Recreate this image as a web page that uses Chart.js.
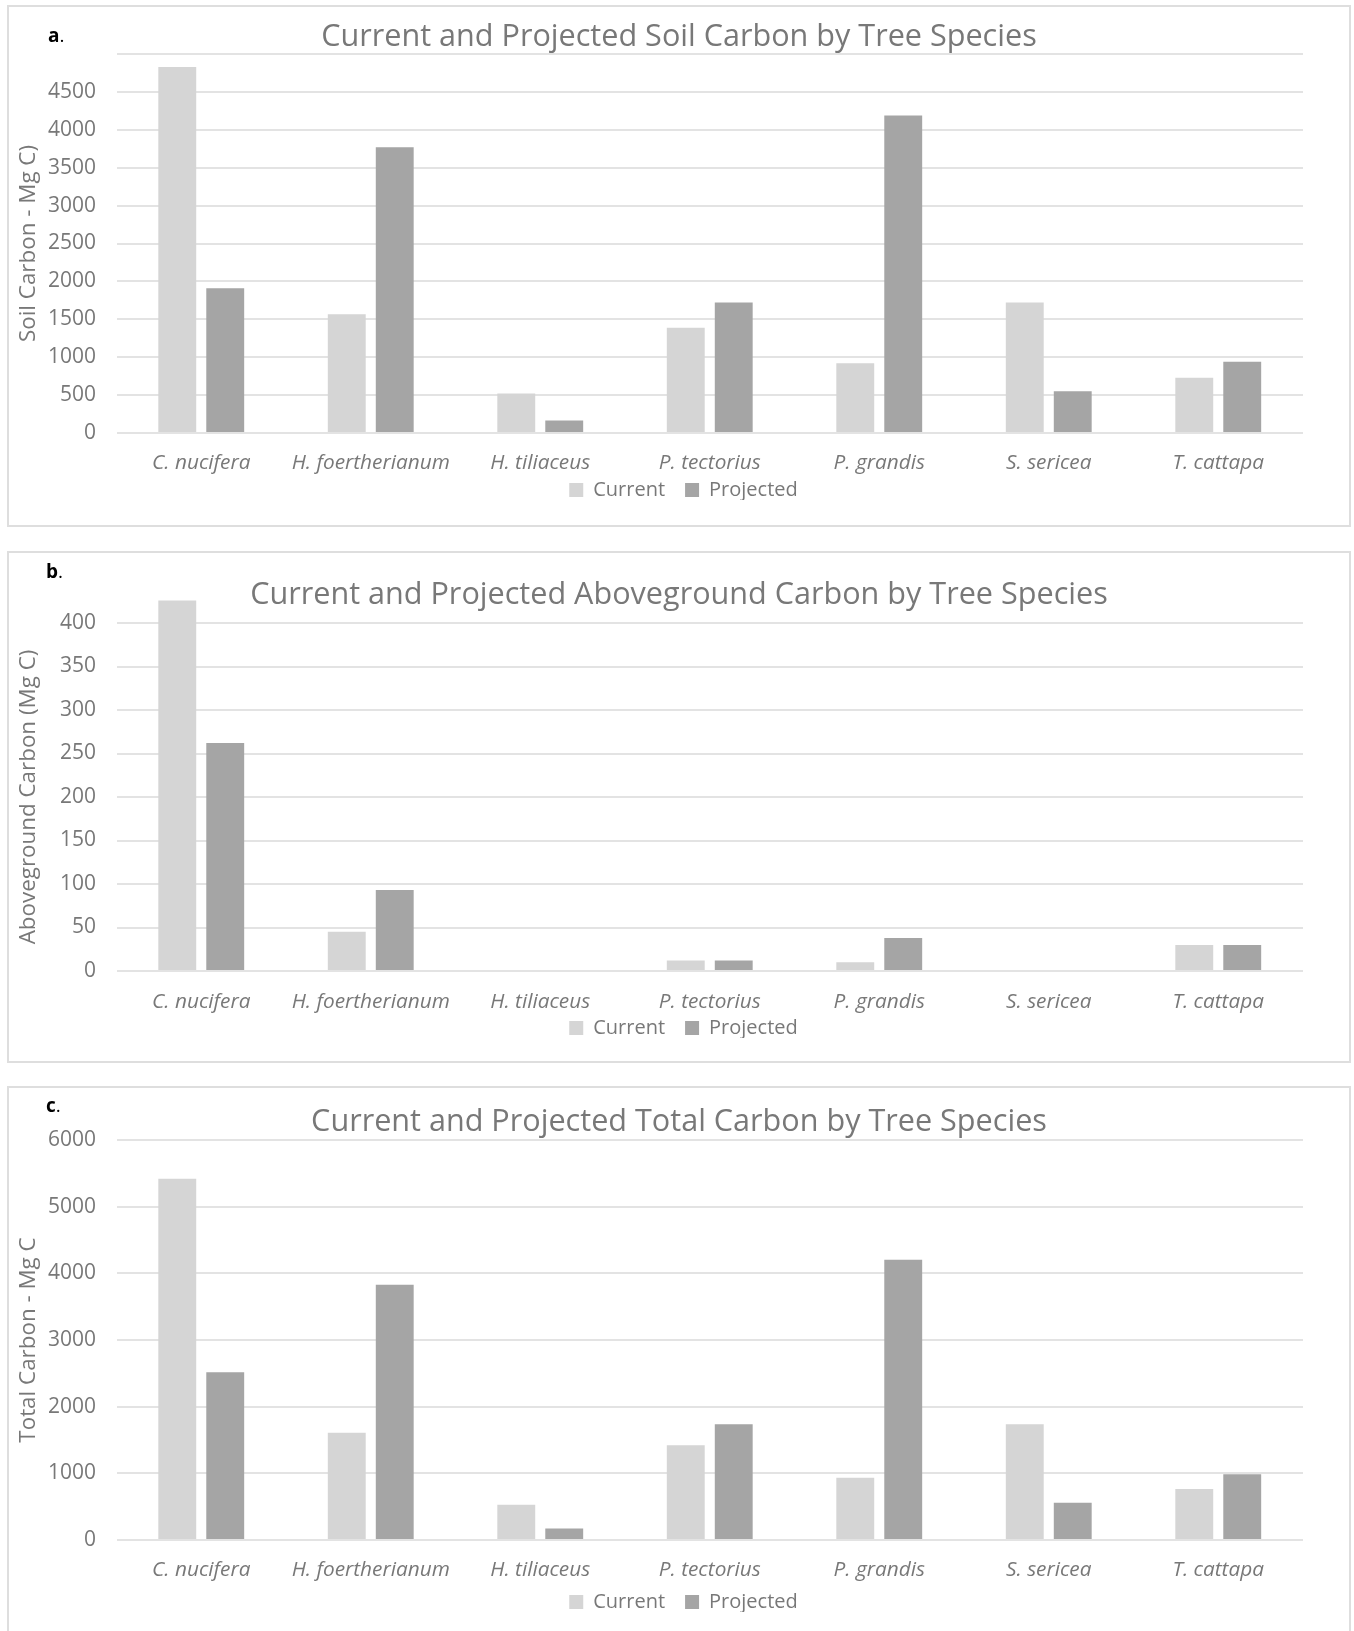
<!DOCTYPE html>
<html>
<head>
<meta charset="utf-8">
<script src="https://cdn.jsdelivr.net/npm/chart.js@4.4.1/dist/chart.umd.min.js"></script>
<style>
  html, body { margin: 0; padding: 0; background: #fff; }
  body { width: 1354px; height: 1631px; position: relative; overflow: hidden; }
  .panel { position: absolute; left: 7px; width: 1344px; border: 2px solid #dedede; box-sizing: border-box; }
  .wrap { position: absolute; left: 0; top: 0; width: 1340px; }
  .tag { position: absolute; font: 19px/20px 'Open Sans', sans-serif; color: #000; }
  .tag b { font-weight: 700; }
</style>
</head>
<body>
<div class="panel" style="top:5px;height:522px">
  <div class="wrap" style="height:518px"><canvas id="soilChart"></canvas></div>
  <span class="tag" style="left:39px;top:18px"><b>a</b>.</span>
</div>
<div class="panel" style="top:551px;height:512px">
  <div class="wrap" style="height:508px"><canvas id="aboveChart"></canvas></div>
  <span class="tag" style="left:37px;top:8px"><b>b</b>.</span>
</div>
<div class="panel" style="top:1086px;height:560px">
  <div class="wrap" style="height:543px"><canvas id="totalChart"></canvas></div>
  <span class="tag" style="left:37px;top:7px"><b>c</b>.</span>
</div>
<script>
const species = ["C. nucifera", "H. foertherianum", "H. tiliaceus", "P. tectorius", "P. grandis", "S. sericea", "T. cattapa"];
const seriesNames = ["Current", "Projected"];

// soil carbon, Mg C
const soilCurrent = [4830, 1565, 522, 1390, 920, 1720, 730];
const soilProjected = [1910, 3770, 165, 1720, 4190, 550, 940];

// aboveground carbon, Mg C
const aboveCurrent = [426, 45, 0, 12, 10, 0, 30];
const aboveProjected = [262, 93, 0, 12, 38, 0, 30];

// total carbon, Mg C
const totalCurrent = [5420, 1610, 530, 1420, 935, 1735, 765];
const totalProjected = [2515, 3830, 172, 1735, 4205, 560, 985];

const GREY_TEXT = "#787878";
const CURRENT_COLOR = "#d5d5d5";
const PROJECTED_COLOR = "#a5a5a5";

Chart.defaults.font.family = "'Open Sans', sans-serif";
Chart.defaults.color = GREY_TEXT;

const TITLE_SIZE = 30.6;
const FONT_SIZE = 20;
const X_SIZE = 20.8;
const TICK_SIZE = 21;
const AXIS_TITLE_SIZE = 22.4;
const LEGEND_PAD = 20;
const LEGEND_H = 40;

// moves the legend box to a fixed spot after layout, so the
// x labels keep their own box and are not clipped
const legendShift = {
  id: "legendShift",
  afterLayout(chart, args, opts) {
    const lg = chart.legend;
    if (!lg || opts.top == null) return;
    const dy = lg.top - opts.top;
    lg.top -= dy;
    lg.bottom -= dy;
    lg.left += opts.dx || 0;
    lg.right += opts.dx || 0;
  },
};

function buildChart(id, p) {
  const titleLh = TITLE_SIZE * 1.2;
  const titleTop = p.titleY - titleLh / 2;
  const tickPad = p.tickY - p.bottom - X_SIZE * 0.6;
  const xHeight = tickPad + X_SIZE * 1.2 + 2;
  const padBottom = Math.max(0, p.height - p.bottom - xHeight - LEGEND_H);

  const datasets = [p.current, p.projected].map((values, i) => ({
    label: seriesNames[i],
    data: values,
    yAxisID: "y",
    backgroundColor: i === 0 ? CURRENT_COLOR : PROJECTED_COLOR,
    borderWidth: 0,
    barPercentage: 0.79,
    categoryPercentage: 0.566,
    clip: false,
  }));

  return new Chart(document.getElementById(id), {
    type: "bar",
    data: { labels: species, datasets },
    plugins: [legendShift],
    options: {
      responsive: true,
      maintainAspectRatio: false,
      animation: false,
      layout: { padding: { top: 0, left: 0, right: 0, bottom: padBottom } },
      plugins: {
        title: {
          display: true,
          text: p.title,
          color: GREY_TEXT,
          font: { size: TITLE_SIZE, weight: "normal" },
          padding: { top: titleTop, bottom: p.top - titleTop - titleLh },
        },
        legend: {
          position: "bottom",
          maxHeight: LEGEND_H,
          labels: {
            boxWidth: 14,
            boxHeight: 14,
            padding: LEGEND_PAD,
            color: GREY_TEXT,
            font: { size: FONT_SIZE },
          },
        },
        legendShift: { top: p.legendY - LEGEND_PAD - FONT_SIZE / 2, dx: 4.5 },
        tooltip: { enabled: false },
      },
      scales: {
        x: {
          grid: { display: false, drawTicks: false },
          border: { display: false },
          ticks: {
            padding: tickPad,
            autoSkip: false,
            maxRotation: 0,
            minRotation: 0,
            font: { size: X_SIZE, style: "italic" },
          },
          afterFit: (s) => { s.height = xHeight; },
        },
        y: {
          min: 0,
          max: p.max,
          ticks: {
            stepSize: p.step,
            padding: 20.5,
            font: { size: TICK_SIZE },
            callback: (v) => (p.hideTop && v === p.max ? "" : v),
          },
          grid: { color: "#e3e3e3", lineWidth: 2, drawTicks: false },
          border: { display: false },
          title: {
            display: true,
            text: p.yTitle,
            color: GREY_TEXT,
            font: { size: AXIS_TITLE_SIZE },
            padding: { top: 20 - AXIS_TITLE_SIZE * 0.6, bottom: 0 },
          },
          afterFit: (s) => { s.width = 107.5; },
        },
        // empty right-hand strip, keeps title and legend centred on the panel
        yPad: {
          type: "linear",
          axis: "y",
          position: "right",
          grid: { display: false, drawTicks: false },
          border: { display: false },
          ticks: { display: false },
          afterFit: (s) => { s.width = 46; },
        },
      },
    },
  });
}

buildChart("soilChart", {
  title: "Current and Projected Soil Carbon by Tree Species",
  yTitle: "Soil Carbon - Mg C)",
  current: soilCurrent,
  projected: soilProjected,
  max: 5000, step: 500, hideTop: true,
  height: 518, titleY: 30, top: 47, bottom: 426, tickY: 456, legendY: 483,
});

buildChart("aboveChart", {
  title: "Current and Projected Aboveground Carbon by Tree Species",
  yTitle: "Aboveground Carbon (Mg C)",
  current: aboveCurrent,
  projected: aboveProjected,
  max: 400, step: 50,
  height: 508, titleY: 42, top: 70, bottom: 418, tickY: 449, legendY: 475,
});

buildChart("totalChart", {
  title: "Current and Projected Total Carbon by Tree Species",
  yTitle: "Total Carbon - Mg C",
  current: totalCurrent,
  projected: totalProjected,
  max: 6000, step: 1000,
  height: 543, titleY: 34, top: 52, bottom: 452, tickY: 482, legendY: 514,
});
</script>
</body>
</html>
